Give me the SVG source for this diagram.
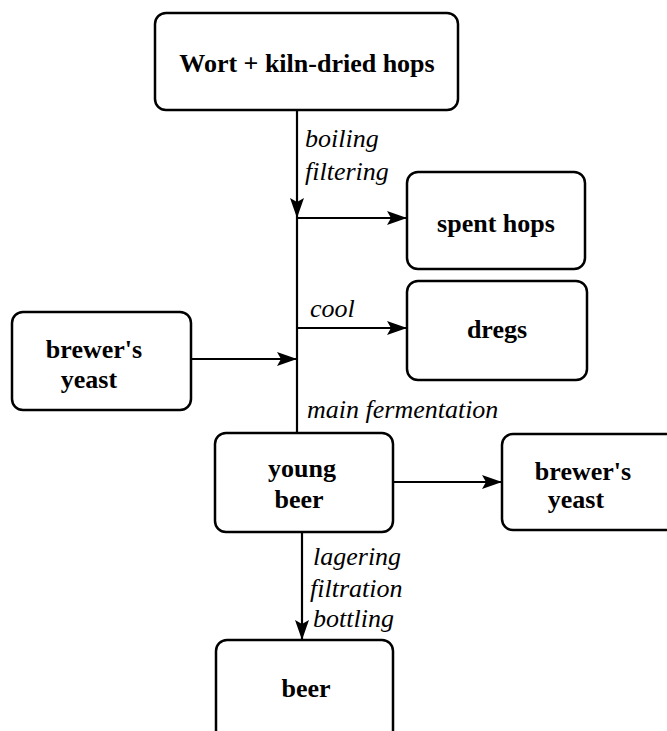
<svg xmlns="http://www.w3.org/2000/svg" width="667" height="731" viewBox="0 0 667 731">
<style>
  .box { fill: #fff; stroke: #000; stroke-width: 2.5; }
  .lbl { font-family: "Liberation Serif", "Times New Roman", serif; font-weight: bold; font-size: 26px; text-anchor: middle; fill: #000; }
  .it { font-family: "Liberation Serif", "Times New Roman", serif; font-style: italic; font-size: 26px; fill: #000; }
  .ln { stroke: #000; stroke-width: 2.2; fill: none; }
</style>
<defs>
  <marker id="ah" viewBox="0 0 20 14" refX="20" refY="7" markerWidth="20" markerHeight="14" markerUnits="userSpaceOnUse" orient="auto">
    <path d="M0,0 L20,7 L0,14 L4,7 z" fill="#000"/>
  </marker>
</defs>
<rect width="667" height="731" fill="#fff"/>
<g id="connectors">
  <line class="ln" x1="297" y1="110" x2="297" y2="218" marker-end="url(#ah)"/>
  <line class="ln" x1="297" y1="218" x2="297" y2="434"/>
  <line class="ln" x1="297" y1="218" x2="407" y2="218" marker-end="url(#ah)"/>
  <line class="ln" x1="297" y1="328" x2="407" y2="328" marker-end="url(#ah)"/>
  <line class="ln" x1="191" y1="359" x2="297" y2="359" marker-end="url(#ah)"/>
  <line class="ln" x1="393" y1="482" x2="502" y2="482" marker-end="url(#ah)"/>
  <line class="ln" x1="302" y1="532" x2="302" y2="640" marker-end="url(#ah)"/>
  <text class="it" x="305" y="147">boiling</text>
  <text class="it" x="305" y="180">filtering</text>
  <text class="it" x="310" y="317">cool</text>
  <text class="it" x="307" y="418">main fermentation</text>
  <text class="it" x="313" y="565">lagering</text>
  <text class="it" x="310" y="597">filtration</text>
  <text class="it" x="313" y="627">bottling</text>
</g>
<g id="wort">
  <rect class="box" x="155" y="13" width="303" height="97" rx="11"/>
  <text class="lbl" x="307" y="72">Wort + kiln-dried hops</text>
</g>
<g id="spent-hops">
  <rect class="box" x="407" y="172" width="178" height="97" rx="11"/>
  <text class="lbl" x="496" y="232">spent hops</text>
</g>
<g id="dregs">
  <rect class="box" x="407" y="281" width="180" height="99" rx="11"/>
  <text class="lbl" x="497" y="338">dregs</text>
</g>
<g id="brewers-yeast-in">
  <rect class="box" x="12" y="312" width="179" height="98" rx="11"/>
  <text class="lbl" x="94" y="358">brewer's</text>
  <text class="lbl" x="89" y="388">yeast</text>
</g>
<g id="young-beer">
  <rect class="box" x="215" y="433" width="178" height="99" rx="11"/>
  <text class="lbl" x="302" y="477">young</text>
  <text class="lbl" x="299" y="508">beer</text>
</g>
<g id="brewers-yeast-out">
  <rect class="box" x="502" y="434" width="178" height="96" rx="11"/>
  <text class="lbl" x="583" y="480">brewer's</text>
  <text class="lbl" x="576" y="508">yeast</text>
</g>
<g id="beer">
  <rect class="box" x="216" y="640" width="177" height="110" rx="11"/>
  <text class="lbl" x="306" y="697">beer</text>
</g>
</svg>
